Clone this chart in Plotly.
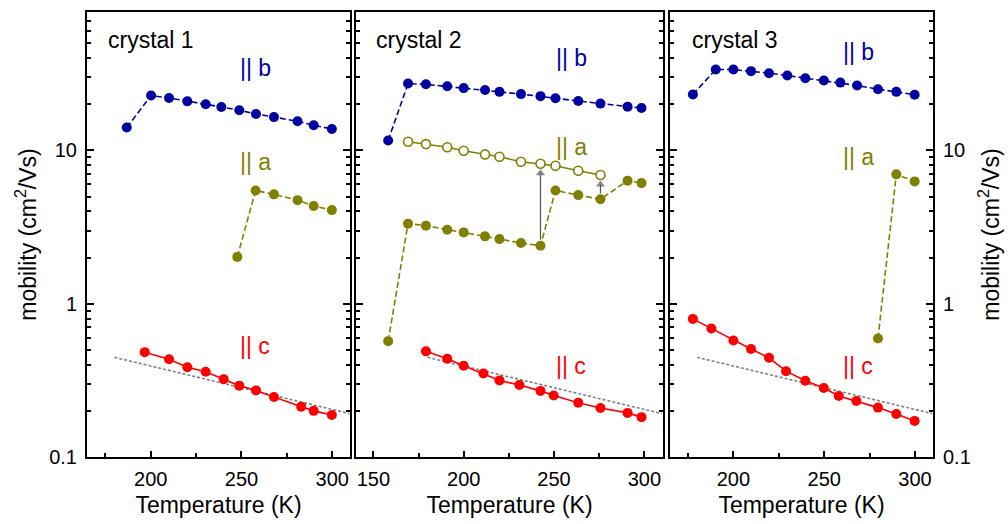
import numpy as np
import plotly.graph_objects as go

# ---------------- data ----------------
# crystal 1
T1_b = [186.8, 200.2, 210.1, 220.2, 230.3, 238.9, 248.8, 258.0, 267.9, 280.9, 289.8, 299.8]
mu1_b = [14.1, 22.8, 22.0, 20.9, 20.0, 19.2, 18.3, 17.3, 16.5, 15.5, 14.6, 13.8]
T1_a = [247.7, 257.8, 267.9, 280.9, 289.8, 299.8]
mu1_a = [2.02, 5.48, 5.17, 4.74, 4.34, 4.08]
T1_c = [196.7, 210.1, 220.2, 230.3, 240.2, 248.8, 258.0, 267.9, 282.9, 289.8, 299.8]
mu1_c = [0.483, 0.434, 0.385, 0.360, 0.322, 0.292, 0.272, 0.246, 0.213, 0.200, 0.188]

# crystal 2
T2_b = [158.2, 169.2, 179.1, 190.9, 200.0, 211.8, 219.8, 231.7, 242.5, 250.8, 263.4, 275.7, 290.7, 298.4]
mu2_b = [11.6, 27.3, 27.0, 26.2, 25.5, 24.8, 24.1, 23.3, 22.6, 21.9, 21.0, 20.2, 19.3, 18.9]
T2_a_open = [169.2, 179.1, 190.9, 200.0, 211.8, 219.8, 231.7, 242.5, 250.8, 263.4, 275.7]
mu2_a_open = [11.4, 11.0, 10.5, 9.95, 9.42, 9.10, 8.44, 8.19, 7.95, 7.37, 6.91]
T2_a = [158.2, 169.2, 179.1, 190.9, 200.0, 211.8, 219.8, 231.7, 242.5, 250.8, 263.4, 275.7, 290.7, 298.4]
mu2_a = [0.570, 3.33, 3.23, 3.04, 2.92, 2.75, 2.64, 2.49, 2.39, 5.48, 5.11, 4.80, 6.35, 6.12]
T2_c = [179.1, 190.9, 200.0, 210.9, 219.8, 230.8, 242.5, 249.8, 263.4, 275.7, 290.7, 298.4]
mu2_c = [0.489, 0.437, 0.394, 0.351, 0.316, 0.295, 0.270, 0.252, 0.226, 0.209, 0.194, 0.182]
T2_arrows = [242.5, 275.7]  # temperatures where filled -> open arrows are drawn

# crystal 3
T3_b = [177.7, 190.3, 200.0, 209.7, 219.6, 229.7, 239.6, 249.8, 258.9, 268.1, 279.6, 289.7, 299.8]
mu3_b = [23.2, 33.7, 33.7, 32.9, 31.9, 30.8, 29.6, 28.6, 27.7, 26.5, 25.1, 24.1, 23.1]
T3_a = [279.6, 289.7, 299.8]
mu3_a = [0.593, 6.98, 6.28]
T3_c = [177.7, 187.9, 200.0, 209.7, 219.6, 229.0, 239.6, 249.8, 258.0, 267.7, 279.6, 289.7, 299.8]
mu3_c = [0.796, 0.689, 0.575, 0.506, 0.444, 0.363, 0.314, 0.282, 0.250, 0.232, 0.210, 0.191, 0.172]

# guide line (gray dotted), same in all panels
T_guide = [180, 309.5]
mu_guide = [0.447, 0.192]

x_ranges = [[164.9, 309.8], [140.4, 310.3], [165.1, 309.9]]
y_range_vals = [0.1, 80]
y_tickvals = [0.1, 1, 10]
y_ticktext = ["0.1", "1", "10"]
panel_titles = ["crystal 1", "crystal 2", "crystal 3"]

BLUE = "rgb(0,0,160)"
OLIVE = "rgb(128,128,0)"
RED = "rgb(255,0,0)"
GRAY = "rgb(128,128,128)"
ARROW = "rgb(90,90,90)"
FONT = "Arial, Liberation Sans, sans-serif"

fig = go.Figure()

def add_series(T, mu, color, xa, ya, dash="solid", open_=False):
    fig.add_trace(go.Scatter(
        x=T, y=mu, mode="lines+markers", xaxis=xa, yaxis=ya,
        line=dict(color=color, width=1.6, dash=dash),
        marker=dict(size=10 if not open_ else 9, color="white" if open_ else color,
                    line=dict(color=color, width=1.6 if open_ else 0),
                    symbol="circle"),
        showlegend=False, cliponaxis=False))

def add_guide(xa, ya):
    fig.add_trace(go.Scatter(
        x=T_guide, y=mu_guide, mode="lines", xaxis=xa, yaxis=ya,
        line=dict(color=GRAY, width=1.6, dash="3px,2px"), showlegend=False))

DASH = "6px,3px"

# panel 1
add_guide("x", "y")
add_series(T1_b, mu1_b, BLUE, "x", "y", DASH)
add_series(T1_a, mu1_a, OLIVE, "x", "y", DASH)
add_series(T1_c, mu1_c, RED, "x", "y", "solid")

# panel 2
add_guide("x2", "y2")
add_series(T2_b, mu2_b, BLUE, "x2", "y2", DASH)

# arrows (drawn beneath the markers): shaft from filled point toward open point
GAP_DEC = 6.0 / 153.5     # ~6 px gap expressed in decades
HEAD_DEC = 9.5 / 153.5    # arrowhead centre offset below open point
for Tk in T2_arrows:
    m_f = mu2_a[T2_a.index(Tk)]
    m_o = mu2_a_open[T2_a_open.index(Tk)]
    y0 = m_f * 10 ** GAP_DEC
    y1 = m_o * 10 ** (-HEAD_DEC)
    fig.add_trace(go.Scatter(
        x=[Tk, Tk], y=[y0, y1], mode="lines+markers", xaxis="x2", yaxis="y2",
        line=dict(color=ARROW, width=1.3),
        marker=dict(size=[0, 8], symbol="triangle-up", color=ARROW, line=dict(width=0)),
        showlegend=False, hoverinfo="skip"))

add_series(T2_a_open, mu2_a_open, OLIVE, "x2", "y2", "solid", open_=True)
add_series(T2_a, mu2_a, OLIVE, "x2", "y2", DASH)
add_series(T2_c, mu2_c, RED, "x2", "y2", "solid")

# panel 3
add_guide("x3", "y3")
add_series(T3_b, mu3_b, BLUE, "x3", "y3", DASH)
add_series(T3_a, mu3_a, OLIVE, "x3", "y3", DASH)
add_series(T3_c, mu3_c, RED, "x3", "y3", "solid")

W, H = 1008, 524
L, R, Tm, B = 87, 75, 12, 67
plot_w = W - L - R
def fx(px):
    return (px - L) / plot_w

domains = [[0, fx(350)], [fx(356), fx(663)], [fx(670), 1.0]]

TICKSIZE = 20
TITLESIZE = 23

axis_common = dict(showline=True, linecolor="black", linewidth=2,
                   showgrid=False, zeroline=False, automargin=False,
                   tickfont=dict(family=FONT, size=TICKSIZE, color="black"),
                   tickcolor="black", tickwidth=1.5)

layout = dict(width=W, height=H, margin=dict(l=L, r=R, t=Tm, b=B),
              plot_bgcolor="white", paper_bgcolor="white",
              font=dict(family=FONT, color="black"))

for i in range(3):
    sfx = "" if i == 0 else str(i + 1)
    layout["xaxis" + sfx] = dict(
        axis_common, domain=domains[i], range=x_ranges[i], anchor="y" + sfx,
        ticks="inside", ticklen=6, dtick=50, tick0=0, mirror=True, ticklabelstandoff=3,
        minor=dict(ticks="inside", ticklen=4, dtick=25, tick0=0, tickcolor="black", tickwidth=1.5),
        title=dict(text="Temperature (K)", font=dict(family=FONT, size=TITLESIZE, color="black"), standoff=8))
    ya = dict(
        axis_common, type="log", range=[np.log10(y_range_vals[0]), np.log10(y_range_vals[1])],
        anchor="x" + sfx, ticks="inside", ticklen=7, tickvals=y_tickvals, ticktext=y_ticktext,
        mirror="ticks", ticklabelstandoff=4,
        minor=dict(ticks="inside", ticklen=4, dtick="D1", tickcolor="black", tickwidth=1.5))
    if i == 0:
        ya["title"] = dict(text="mobility (cm<sup>2</sup>/Vs)",
                           font=dict(family=FONT, size=TITLESIZE, color="black"), standoff=6)
    elif i == 1:
        ya["showticklabels"] = False
    else:
        ya["side"] = "right"
        ya["title"] = dict(text="mobility (cm<sup>2</sup>/Vs)",
                           font=dict(family=FONT, size=TITLESIZE, color="black"), standoff=13)
    layout["yaxis" + sfx] = ya

fig.update_layout(**layout)

def label(text, xa, ya, xd, yd, color, size=23):
    fig.add_annotation(text=text, xref=xa + " domain", yref=ya + " domain",
                       x=xd, y=yd, showarrow=False, xanchor="left", yanchor="middle",
                       font=dict(family=FONT, size=size, color=color))

def ydom(py):
    return (457 - py) / (457 - 12)

pw = [263, 307, 263]
px0 = [87, 356, 670]
def xdom(i, px):
    return (px - px0[i]) / pw[i]

title_x = [106, 374, 690]
lab_x = [238, 554, 841]
b_y = [68, 58, 52]
a_y = [162, 147, 157]
c_y = [346, 366, 366]
axes = [("x", "y"), ("x2", "y2"), ("x3", "y3")]
for i in range(3):
    xa, ya = axes[i]
    label(panel_titles[i], xa, ya, xdom(i, title_x[i]), ydom(40), "black")
    label("|| b", xa, ya, xdom(i, lab_x[i]), ydom(b_y[i]), BLUE)
    label("|| a", xa, ya, xdom(i, lab_x[i]), ydom(a_y[i]), OLIVE)
    label("|| c", xa, ya, xdom(i, lab_x[i]), ydom(c_y[i]), RED)

fig.write_html("out.html")
